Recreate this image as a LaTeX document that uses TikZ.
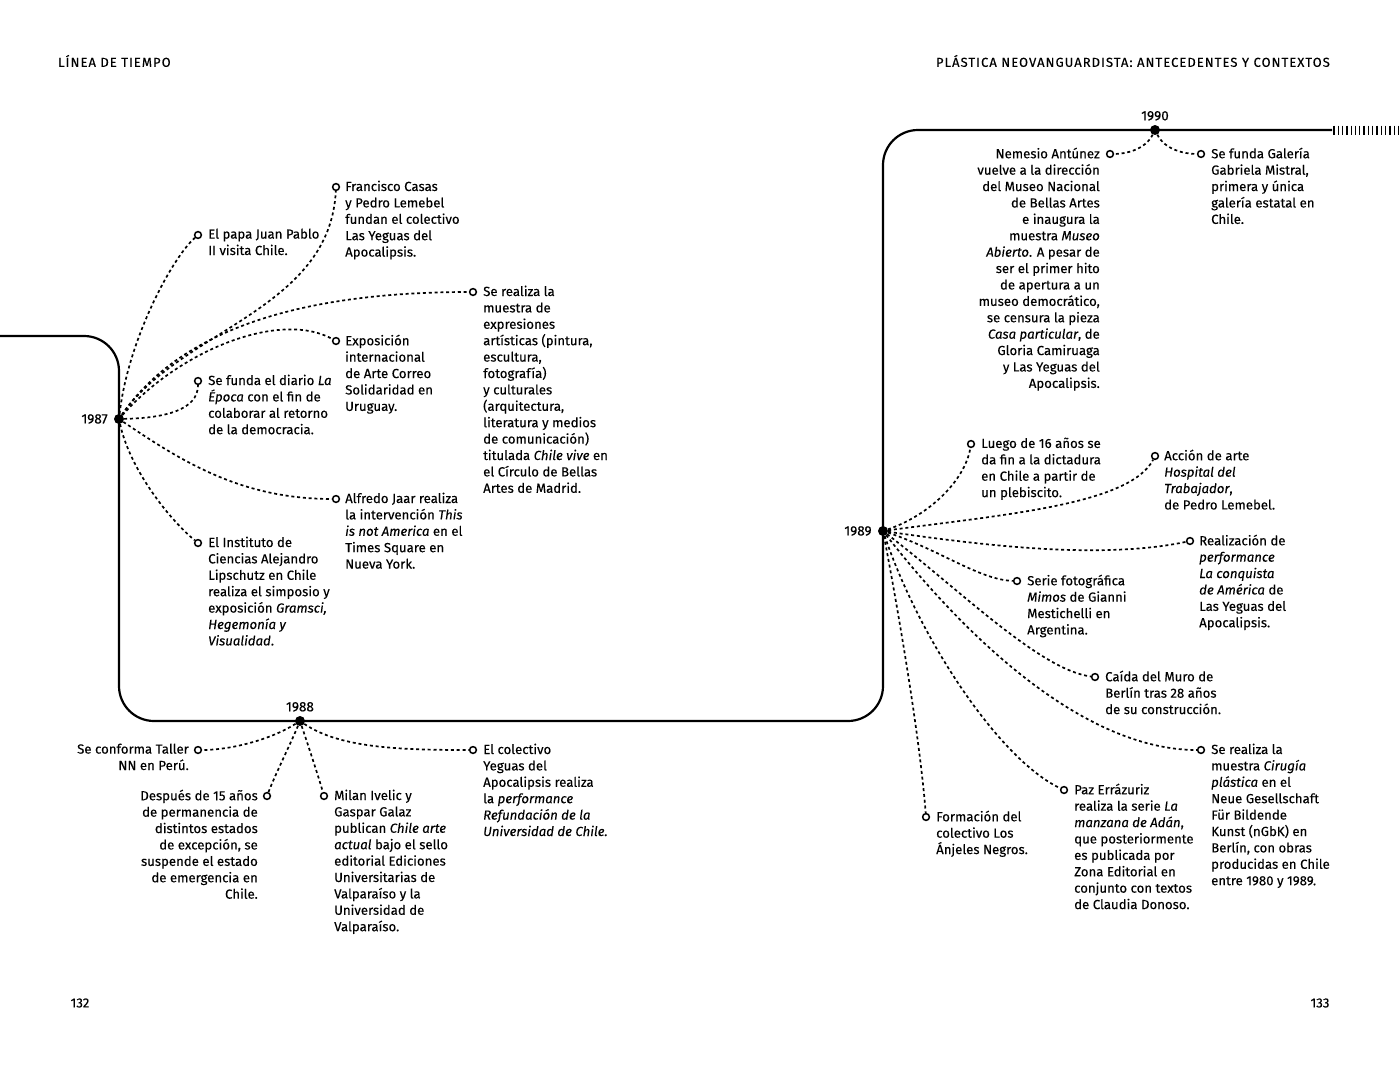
\documentclass[tikz,border=0pt]{standalone}
\usepackage{fontspec}
\setmainfont[FakeBold=0.2]{Fira Sans}
\newfontfamily\anofont[FakeBold=0.6]{Fira Sans}
\newfontfamily\cabfont[LetterSpace=8,FakeBold=0.2]{Fira Sans}
\usetikzlibrary{positioning}

\tikzset{
  eje/.style={line width=2.2pt, rounded corners=35pt},
  rama/.style={line width=1.7pt, dash pattern=on 3pt off 2.8pt},
  hito/.style={circle, draw, line width=1.5pt, fill=white, inner sep=0pt, minimum size=6.8pt},
  anio/.style={circle, fill=black, inner sep=0pt, minimum size=10pt},
  anotxt/.style={font=\anofont\fontsize{13.5}{15}\selectfont, inner sep=0pt},
  evtxt/.style={font=\fontsize{13.2}{16.4}\selectfont, align=left, inner sep=0pt, anchor=north west},
  evtxtr/.style={font=\fontsize{13.2}{16.4}\selectfont, align=right, inner sep=0pt, anchor=north east},
  cab/.style={font=\cabfont\fontsize{13}{15}\selectfont, inner sep=0pt},
  folio/.style={font=\fontsize{13.2}{15}\selectfont, inner sep=0pt}
}

\begin{document}
\begin{tikzpicture}[x=1pt,y=-1pt]
  \useasboundingbox[fill=white] (0,0) rectangle (1400,1073);

  % cabecera y folios
  \node[cab, anchor=west] (cabi) at (58,61) {LÍNEA DE TIEMPO};
  \node[cab, anchor=east] (cabd) at (1330,61) {PLÁSTICA NEOVANGUARDISTA: ANTECEDENTES Y CONTEXTOS};
  \node[folio] (fol1) at (80,1003) {132};
  \node[folio] (fol2) at (1320,1003) {133};

  % eje
  \draw[eje] (0,336) -- (119,336) -- (119,721) -- (883,721) -- (883,130) -- (1332,130);
  \foreach \x in {1334,1338.3,...,1399} {
    \draw[line width=1.3pt] (\x,125.5) -- (\x,134.5);
  }

  % años
  \node[anio, label={[anotxt, label distance=6pt]left:1987}] (y87) at (119,419) {};
  \node[anio, label={[anotxt, label distance=4pt]above:1988}] (y88) at (300,721) {};
  \node[anio, label={[anotxt, label distance=6pt]left:1989}] (y89) at (883,531) {};
  \node[anio, label={[anotxt, label distance=4pt]above:1990}] (y90) at (1155,130) {};

  % 1987
  \node[hito] (p1) at (198,235) {};
  \node[hito] (p2) at (336,187) {};
  \node[hito] (p3) at (473,292) {};
  \node[hito] (p4) at (336,341) {};
  \node[hito] (p5) at (198,381) {};
  \node[hito] (p6) at (336,499) {};
  \node[hito] (p7) at (198,543) {};
  \draw[rama] (y87) .. controls (128,340) and (172,258) .. (p1);
  \draw[rama] (y87) .. controls (180,330) and (330,310) .. (p2);
  \draw[rama] (y87) .. controls (180,330) and (300,292) .. (p3);
  \draw[rama] (y87) .. controls (180,350) and (280,310) .. (p4);
  \draw[rama] (y87) .. controls (165,418) and (198,410) .. (p5);
  \draw[rama] (y87) .. controls (180,460) and (240,499) .. (p6);
  \draw[rama] (y87) .. controls (130,470) and (170,520) .. (p7);
  \node[evtxt] (p1t) at ([shift={(10,-6.5)}]p1.center) {El papa Juan Pablo\\II visita Chile.};
  \node[evtxt] (p2t) at ([shift={(9,-6.5)}]p2.center) {Francisco Casas\\y Pedro Lemebel\\fundan el colectivo\\Las Yeguas del\\Apocalipsis.};
  \node[evtxt] (p3t) at ([shift={(10,-6.5)}]p3.center) {Se realiza la\\muestra de\\expresiones\\artísticas (pintura,\\escultura,\\fotografía)\\y culturales\\(arquitectura,\\literatura y medios\\de comunicación)\\titulada \textit{Chile vive} en\\el Círculo de Bellas\\Artes de Madrid.};
  \node[evtxt] (p4t) at ([shift={(9,-6.5)}]p4.center) {Exposición\\internacional\\de Arte Correo\\Solidaridad en\\Uruguay.};
  \node[evtxt] (p5t) at ([shift={(10,-6.5)}]p5.center) {Se funda el diario \textit{La}\\\textit{Época} con el fin de\\colaborar al retorno\\de la democracia.};
  \node[evtxt] (p6t) at ([shift={(9,-6.5)}]p6.center) {Alfredo Jaar realiza\\la intervención \textit{This}\\\textit{is not America} en el\\Times Square en\\Nueva York.};
  \node[evtxt] (p7t) at ([shift={(10,-6.5)}]p7.center) {El Instituto de\\Ciencias Alejandro\\Lipschutz en Chile\\realiza el simposio y\\exposición \textit{Gramsci,}\\\textit{Hegemonía y}\\\textit{Visualidad}.};

  % 1988
  \node[hito] (q1) at (198,750) {};
  \node[hito] (q2) at (267,796) {};
  \node[hito] (q3) at (324,796) {};
  \node[hito] (q4) at (473,750) {};
  \draw[rama] (y88) .. controls (270,740) and (230,750) .. (q1);
  \draw[rama] (y88) .. controls (290,745) and (275,775) .. (q2);
  \draw[rama] (y88) .. controls (308,745) and (318,775) .. (q3);
  \draw[rama] (y88) .. controls (340,748) and (400,750) .. (q4);
  \node[evtxtr] (q1t) at ([shift={(-9,-6.5)}]q1.center) {Se conforma Taller\\NN en Perú.};
  \node[evtxtr] (q2t) at ([shift={(-9,-6.5)}]q2.center) {Después de 15 años\\de permanencia de\\distintos estados\\de excepción, se\\suspende el estado\\de emergencia en\\Chile.};
  \node[evtxt] (q3t) at ([shift={(10,-6.5)}]q3.center) {Milan Ivelic y\\Gaspar Galaz\\publican \textit{Chile arte}\\\textit{actual} bajo el sello\\editorial Ediciones\\Universitarias de\\Valparaíso y la\\Universidad de\\Valparaíso.};
  \node[evtxt] (q4t) at ([shift={(10,-6.5)}]q4.center) {El colectivo\\Yeguas del\\Apocalipsis realiza\\la \textit{performance}\\\textit{Refundación de la}\\\textit{Universidad de Chile.}};

  % 1989
  \node[hito] (r1) at (971,444) {};
  \node[hito] (r2) at (1155,456) {};
  \node[hito] (r3) at (1190,541) {};
  \node[hito] (r4) at (1017,581) {};
  \node[hito] (r5) at (1095,677) {};
  \node[hito] (r6) at (1201,750) {};
  \node[hito] (r7) at (1064,790) {};
  \node[hito] (r8) at (926,817) {};
  \draw[rama] (y89) .. controls (930,515) and (965,480) .. (r1);
  \draw[rama] (y89) .. controls (1000,515) and (1130,505) .. (r2);
  \draw[rama] (y89) .. controls (980,545) and (1100,560) .. (r3);
  \draw[rama] (y89) .. controls (940,550) and (980,580) .. (r4);
  \draw[rama] (y89) .. controls (960,590) and (1040,670) .. (r5);
  \draw[rama] (y89) .. controls (960,630) and (1080,750) .. (r6);
  \draw[rama] (y89) .. controls (920,640) and (1000,760) .. (r7);
  \draw[rama] (y89) .. controls (900,620) and (920,740) .. (r8);
  \node[evtxt] (r1t) at ([shift={(10,-6.5)}]r1.center) {Luego de 16 años se\\da fin a la dictadura\\en Chile a partir de\\un plebiscito.};
  \node[evtxt] (r2t) at ([shift={(9,-6.5)}]r2.center) {Acción de arte\\\textit{Hospital del}\\\textit{Trabajador},\\de Pedro Lemebel.};
  \node[evtxt] (r3t) at ([shift={(9,-6.5)}]r3.center) {Realización de\\\textit{performance}\\\textit{La conquista}\\\textit{de América} de\\Las Yeguas del\\Apocalipsis.};
  \node[evtxt] (r4t) at ([shift={(10,-6.5)}]r4.center) {Serie fotográfica\\\textit{Mimos} de Gianni\\Mestichelli en\\Argentina.};
  \node[evtxt] (r5t) at ([shift={(10,-6.5)}]r5.center) {Caída del Muro de\\Berlín tras 28 años\\de su construcción.};
  \node[evtxt] (r6t) at ([shift={(10,-6.5)}]r6.center) {Se realiza la\\muestra \textit{Cirugía}\\\textit{plástica} en el\\Neue Gesellschaft\\Für Bildende\\Kunst (nGbK) en\\Berlín, con obras\\producidas en Chile\\entre 1980 y 1989.};
  \node[evtxt] (r7t) at ([shift={(10,-6.5)}]r7.center) {Paz Errázuriz\\realiza la serie \textit{La}\\\textit{manzana de Adán},\\que posteriormente\\es publicada por\\Zona Editorial en\\conjunto con textos\\de Claudia Donoso.};
  \node[evtxt] (r8t) at ([shift={(10,-6.5)}]r8.center) {Formación del\\colectivo Los\\Ánjeles Negros.};

  % 1990
  \node[hito] (s1) at (1110,154) {};
  \node[hito] (s2) at (1201,154) {};
  \draw[rama] (y90) .. controls (1145,150) and (1125,154) .. (s1);
  \draw[rama] (y90) .. controls (1165,150) and (1185,154) .. (s2);
  \node[evtxtr] (s1t) at ([shift={(-10,-6.5)}]s1.center) {Nemesio Antúnez\\vuelve a la dirección\\del Museo Nacional\\de Bellas Artes\\e inaugura la\\muestra \textit{Museo}\\\textit{Abierto}. A pesar de\\ser el primer hito\\de apertura a un\\museo democrático,\\se censura la pieza\\\textit{Casa particular}, de\\Gloria Camiruaga\\y Las Yeguas del\\Apocalipsis.};
  \node[evtxt] (s2t) at ([shift={(10,-6.5)}]s2.center) {Se funda Galería\\Gabriela Mistral,\\primera y única\\galería estatal en\\Chile.};
\end{tikzpicture}
\end{document}
